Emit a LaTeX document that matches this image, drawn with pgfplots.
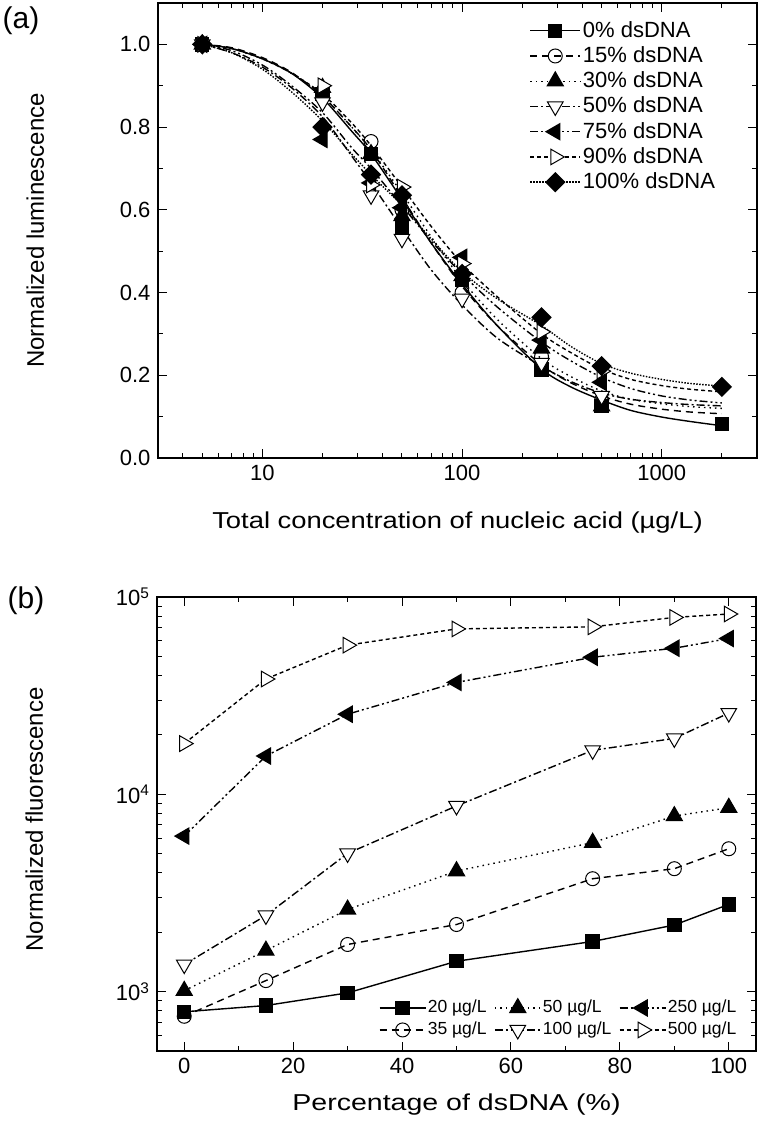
\documentclass[border=0pt]{standalone}
\usepackage{fontspec}
\setmainfont{Liberation Sans}
\newfontfamily\xlabfontA[FakeStretch=1.19]{Liberation Sans}
\newfontfamily\xlabfontB[FakeStretch=1.24]{Liberation Sans}
\usepackage{pgfplots}
\usepackage{pgfplotstable}
\pgfplotsset{compat=1.18}

% fitted curves of panel (a)
\pgfplotstableread{
x c0 c15 c30 c50 c75 c90 c100
5 1.000 1.000 1.000 1.000 1.000 1.000 1.000
7 0.990 0.992 0.990 0.980 0.985 0.990 0.980
10 0.965 0.968 0.965 0.945 0.950 0.965 0.940
14 0.930 0.932 0.930 0.895 0.900 0.930 0.885
20 0.870 0.875 0.875 0.825 0.835 0.880 0.815
28 0.790 0.800 0.800 0.730 0.750 0.810 0.735
35 0.735 0.745 0.745 0.665 0.700 0.755 0.685
50 0.625 0.630 0.640 0.555 0.610 0.655 0.610
70 0.520 0.520 0.535 0.455 0.525 0.560 0.530
100 0.420 0.415 0.430 0.370 0.445 0.470 0.450
150 0.320 0.320 0.335 0.290 0.365 0.390 0.385
250 0.215 0.225 0.240 0.222 0.280 0.300 0.320
350 0.172 0.182 0.197 0.185 0.235 0.255 0.270
500 0.140 0.150 0.162 0.157 0.195 0.215 0.228
700 0.115 0.130 0.142 0.142 0.168 0.190 0.205
1000 0.099 0.118 0.131 0.134 0.150 0.175 0.190
1400 0.088 0.111 0.124 0.129 0.140 0.166 0.180
2000 0.078 0.107 0.120 0.126 0.133 0.160 0.174
}\fits

\tikzset{
  sA/.style={solid},
  sB/.style={dash pattern=on 7pt off 5pt},
  sC/.style={dash pattern=on 1.5pt off 4pt},
  sD/.style={dash pattern=on 8pt off 3pt on 2pt off 3pt},
  sE/.style={dash pattern=on 8pt off 3pt on 2pt off 3pt on 2pt off 3pt},
  sF/.style={dash pattern=on 4pt off 3pt},
  sG/.style={dash pattern=on 1.5pt off 1.5pt},
  mA/.style={mark=square*, mark size=6.5pt, mark options={solid,fill=black,draw=black}},
  mB/.style={mark=o, mark size=7pt, mark options={solid,fill=white,draw=black,line width=1pt}},
  mC/.style={mark=triangle*, mark size=9pt, mark options={solid,fill=black,draw=black}},
  mD/.style={mark=triangle*, mark size=9pt, mark options={solid,fill=white,draw=black,line width=1pt,rotate=180}},
  mE/.style={mark=triangle*, mark size=9pt, mark options={solid,fill=black,draw=black,rotate=90}},
  mF/.style={mark=triangle*, mark size=9pt, mark options={solid,fill=white,draw=black,line width=1pt,rotate=-90}},
  mG/.style={mark=square*, mark size=6.5pt, mark options={solid,fill=black,draw=black,rotate=45}},
}

\begin{document}
\fontsize{22}{26}\selectfont
\begin{tikzpicture}[x=1pt,y=1pt]
\useasboundingbox (0,0) rectangle (763,1132);
\node[anchor=center, inner sep=0, font=\fontsize{30}{34}\selectfont] at (21,1111) {(a)};
\node[anchor=center, inner sep=0, font=\fontsize{30}{34}\selectfont] at (26,531) {(b)};

% ---------------- panel (a)
\begin{axis}[
  at={(158pt,674pt)}, anchor=south west, scale only axis,
  width=599pt, height=455pt,
  xmode=log, xmin=3, xmax=3000, ymin=0, ymax=1.1,
  font=\fontsize{22}{26}\selectfont,
  tick label style={font=\fontsize{22}{26}\selectfont},
  label style={font=\fontsize{24}{28}\selectfont},
  xtick={10,100,1000}, xticklabels={10,100,1000},
  minor xtick={4,5,6,7,8,9,20,30,40,50,60,70,80,90,200,300,400,500,600,700,800,900,2000},
  ytick={0,0.2,0.4,0.6,0.8,1.0}, minor ytick={0.1,0.3,0.5,0.7,0.9},
  yticklabel style={/pgf/number format/.cd,fixed,fixed zerofill,precision=1,assume math mode=true},
  tick align=inside, major tick length=9pt, minor tick length=5pt,
  tick style={black, line width=1pt},
  axis line style={line width=1.4pt},
  xlabel={Total concentration of nucleic acid (µg/L)},
  ylabel={Normalized luminescence},
  xlabel style={at={(axis description cs:0.5,-0.141)}, anchor=center, font=\xlabfontA\fontsize{23}{27}\selectfont},
  ylabel style={at={(axis description cs:-0.205,0.5)}, anchor=center},
  every axis plot/.append style={line width=1.4pt, black},
  legend style={at={(axis description cs:0.62,0.965)}, anchor=north west, draw=none, fill=none,
     font=\fontsize{22}{25}\selectfont, row sep=2pt, inner sep=0pt},
  legend cell align=left,
  legend image code/.code={\draw[mark repeat=2,mark phase=2] plot coordinates {(0pt,0pt) (25pt,0pt) (50pt,0pt)};},
]
\addplot[sA, smooth, forget plot] table[x=x,y=c0] {\fits};
\addplot[sB, smooth, forget plot] table[x=x,y=c15] {\fits};
\addplot[sC, smooth, forget plot] table[x=x,y=c30] {\fits};
\addplot[sD, smooth, forget plot] table[x=x,y=c50] {\fits};
\addplot[sE, smooth, forget plot] table[x=x,y=c75] {\fits};
\addplot[sF, smooth, forget plot] table[x=x,y=c90] {\fits};
\addplot[sG, smooth, forget plot] table[x=x,y=c100] {\fits};

\addplot[only marks, mA, forget plot] coordinates {(5,1.0) (20,0.88) (35,0.735) (50,0.555) (100,0.43) (250,0.214) (500,0.125) (2000,0.082)};
\addplot[only marks, mB, forget plot] coordinates {(5,1.0) (20,0.875) (35,0.765) (50,0.60) (100,0.40) (250,0.245) (500,0.14)};
\addplot[only marks, mC, forget plot] coordinates {(5,1.0) (20,0.895) (35,0.735) (50,0.585) (100,0.44) (250,0.265) (500,0.125)};
\addplot[only marks, mD, forget plot] coordinates {(5,1.0) (20,0.86) (35,0.635) (50,0.53) (100,0.385) (250,0.23) (500,0.15)};
\addplot[only marks, mE, forget plot] coordinates {(5,1.0) (20,0.77) (35,0.665) (50,0.605) (100,0.485) (250,0.285) (500,0.183)};
\addplot[only marks, mF, forget plot] coordinates {(5,1.0) (20,0.90) (35,0.66) (50,0.655) (100,0.47) (250,0.305) (500,0.21)};
\addplot[only marks, mG, forget plot] coordinates {(5,1.0) (20,0.80) (35,0.685) (50,0.635) (100,0.445) (250,0.34) (500,0.222) (2000,0.172)};

\addlegendimage{black,line width=1.4pt,sA,mA}\addlegendentry{0\% dsDNA}
\addlegendimage{black,line width=1.4pt,sB,mB}\addlegendentry{15\% dsDNA}
\addlegendimage{black,line width=1.4pt,sC,mC}\addlegendentry{30\% dsDNA}
\addlegendimage{black,line width=1.4pt,sD,mD}\addlegendentry{50\% dsDNA}
\addlegendimage{black,line width=1.4pt,sE,mE}\addlegendentry{75\% dsDNA}
\addlegendimage{black,line width=1.4pt,sF,mF}\addlegendentry{90\% dsDNA}
\addlegendimage{black,line width=1.4pt,sG,mG}\addlegendentry{100\% dsDNA}
\end{axis}

% ---------------- panel (b)
\begin{axis}[
  at={(157pt,81pt)}, anchor=south west, scale only axis,
  width=599pt, height=454pt,
  ymode=log, xmin=-5, xmax=105, ymin=500, ymax=100000,
  font=\fontsize{22}{26}\selectfont,
  tick label style={font=\fontsize{22}{26}\selectfont},
  label style={font=\fontsize{24}{28}\selectfont},
  xtick={0,20,40,60,80,100}, minor xtick={10,30,50,70,90},
  xticklabel style={/pgf/number format/assume math mode=true},
  ytick={1000,10000,100000},
  yticklabels={10\textsuperscript{3},10\textsuperscript{4},10\textsuperscript{5}},
  minor ytick={600,700,800,900,2000,3000,4000,5000,6000,7000,8000,9000,20000,30000,40000,50000,60000,70000,80000,90000},
  tick align=inside, major tick length=9pt, minor tick length=5pt,
  tick style={black, line width=1pt},
  axis line style={line width=1.4pt},
  xlabel={Percentage of dsDNA (\%)},
  ylabel={Normalized fluorescence},
  xlabel style={at={(axis description cs:0.5,-0.117)}, anchor=center, font=\xlabfontB\fontsize{23}{27}\selectfont},
  ylabel style={at={(axis description cs:-0.205,0.51)}, anchor=center},
  every axis plot/.append style={line width=1.4pt, black},
  legend style={at={(axis description cs:0.97,0.025)}, anchor=south east, draw=none, fill=none,
     font=\fontsize{17.5}{20}\selectfont, row sep=3pt, inner sep=0pt,
     nodes={inner sep=1.5pt},
     /tikz/every even column/.append style={column sep=6pt}},
  legend columns=3,
  legend cell align=left,
  legend image code/.code={\draw[mark repeat=2,mark phase=2] plot coordinates {(0pt,0pt) (23pt,0pt) (46pt,0pt)};},
]
\addplot[sA, mA] coordinates {(0,790) (15,850) (30,985) (50,1425) (75,1795) (90,2175) (100,2766)};
\addlegendentry{20 µg/L}
\addplot[sC, mC] coordinates {(0,1010) (15,1615) (30,2607) (50,4083) (75,5690) (90,7760) (100,8550)};
\addlegendentry{50 µg/L}
\addplot[sE, mE] coordinates {(0,6140) (15,15630) (30,25460) (50,36900) (75,49500) (90,55000) (100,61600)};
\addlegendentry{250 µg/L}
\addplot[sB, mB] coordinates {(0,750) (15,1137) (30,1733) (50,2188) (75,3734) (90,4197) (100,5297)};
\addlegendentry{35 µg/L}
\addplot[sD, mD] coordinates {(0,1371) (15,2432) (30,5016) (50,8730) (75,16700) (90,19200) (100,25800)};
\addlegendentry{100 µg/L}
\addplot[sF, mF] coordinates {(0,18070) (15,38400) (30,57000) (50,68900) (75,70600) (90,78800) (100,82000)};
\addlegendentry{500 µg/L}
\end{axis}
\end{tikzpicture}
\end{document}
